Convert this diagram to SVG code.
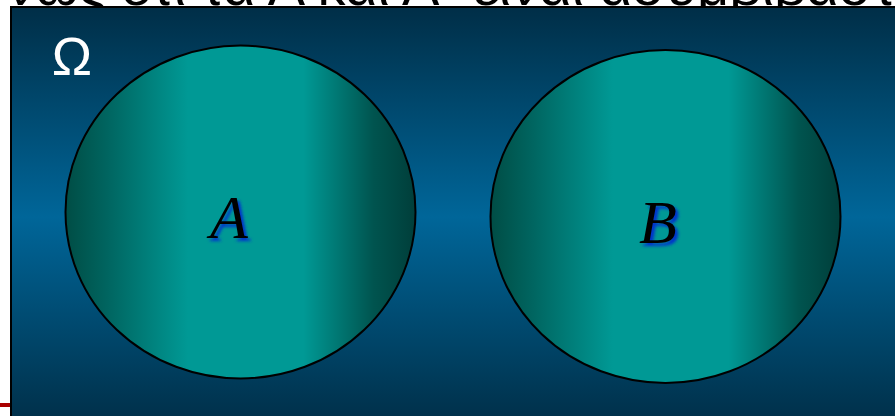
<svg xmlns="http://www.w3.org/2000/svg" width="895" height="416" viewBox="0 0 895 416">
<defs>
<linearGradient id="bg" x1="0" y1="0" x2="0" y2="1">
<stop offset="0" stop-color="#002e47"/>
<stop offset="0.5" stop-color="#006699"/>
<stop offset="1" stop-color="#002e47"/>
</linearGradient>
<linearGradient id="circ" x1="0" y1="0" x2="1" y2="0">
<stop offset="0" stop-color="#004d45"/>
<stop offset="0.12" stop-color="#006560"/>
<stop offset="0.35" stop-color="#009995"/>
<stop offset="0.68" stop-color="#009995"/>
<stop offset="0.88" stop-color="#00544f"/>
<stop offset="1" stop-color="#003e3a"/>
</linearGradient>
<filter id="sh" x="-30%" y="-30%" width="160%" height="160%">
<feGaussianBlur stdDeviation="1.8"/>
</filter>
<style>
.set{fill:url(#circ);stroke:#000;stroke-width:2}
.lbl{font-family:"Liberation Serif",serif;font-style:italic;font-size:62px;text-anchor:middle}
.top{font-family:"Liberation Sans",sans-serif;font-size:56px;fill:#000}
</style>
</defs>
<rect width="895" height="416" fill="#fff"/>
<text class="top" x="106" y="5" text-anchor="end">νώς</text>
<text class="top" x="121" y="5">ότι τα Α και Α΄ είναι ασυμβίβαστα</text>
<rect x="11" y="7" width="900" height="420" fill="url(#bg)" stroke="#000" stroke-width="2"/>
<line x1="0" y1="405" x2="10" y2="405" stroke="#aa0000" stroke-width="4"/>
<text x="72" y="75" font-family="Liberation Sans, sans-serif" font-size="54" fill="#fff" text-anchor="middle">Ω</text>
<g id="A">
<ellipse class="set" cx="240.5" cy="212" rx="175" ry="166.5"/>
<text class="lbl" x="232" y="241" fill="#0033cc" filter="url(#sh)">A</text>
<text class="lbl" x="229" y="238" fill="#000">A</text>
</g>
<g id="B">
<ellipse class="set" cx="665.5" cy="216.5" rx="175" ry="166.5"/>
<text class="lbl" x="661" y="246" fill="#0033cc" filter="url(#sh)">B</text>
<text class="lbl" x="658" y="243" fill="#000">B</text>
</g>
<g id="connectors"/>
</svg>
